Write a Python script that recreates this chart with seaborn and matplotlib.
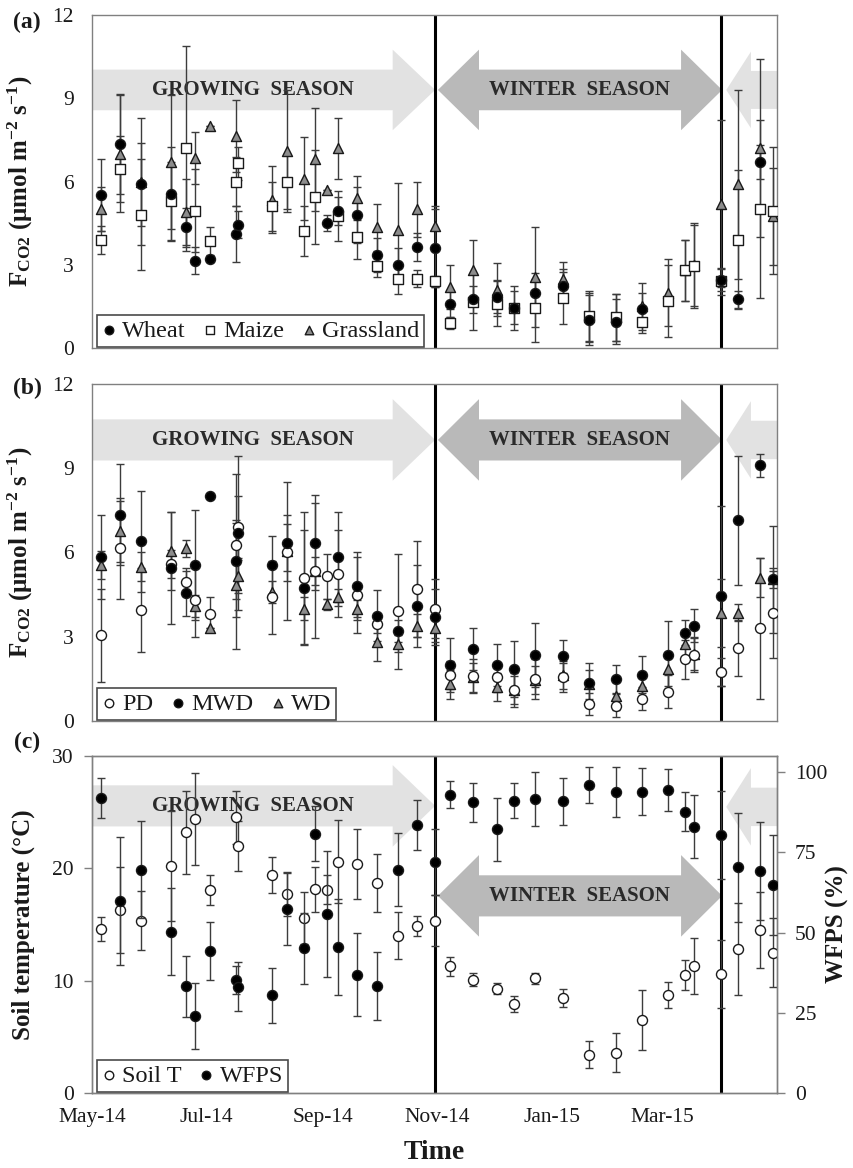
import numpy as np
import pandas as pd
import matplotlib
matplotlib.use("Agg")
import matplotlib.pyplot as plt
from matplotlib.patches import Polygon
import seaborn as sns

nan = np.nan

# ---------------- data ----------------
dates = ['2014-05-06', '2014-05-16', '2014-05-27', '2014-06-12', '2014-06-20', '2014-06-25',
         '2014-07-03', '2014-07-17', '2014-07-18', '2014-08-05', '2014-08-13', '2014-08-22',
         '2014-08-28', '2014-09-03', '2014-09-09', '2014-09-19', '2014-09-30', '2014-10-11',
         '2014-10-21', '2014-10-31', '2014-11-08', '2014-11-20', '2014-12-03', '2014-12-12',
         '2014-12-23', '2015-01-07', '2015-01-21', '2015-02-04', '2015-02-18', '2015-03-04',
         '2015-03-13', '2015-03-18', '2015-04-01', '2015-04-10', '2015-04-22', '2015-04-29']

# panel (a): land use
wheat = [5.5, 7.35, 5.9, 5.55, 4.35, 3.15, 3.2, 4.1, 4.45, nan,
         nan, nan, nan, 4.5, 4.95, 4.8, 3.35, 3.0, 3.65, 3.6,
         1.6, 1.75, 1.85, 1.45, 2.0, 2.25, 1.0, 0.95, 1.4, nan,
         nan, nan, 2.45, 1.75, 6.7, nan]
wheat_sd = [1.3, 1.8, 1.5, 1.7, 0.7, 0.5, 0.1, 1.0, 0.5, nan,
            nan, nan, nan, 0.3, 0.5, 1.0, 0.6, 0.6, 0.5, 1.4,
            0.5, 0.5, 0.6, 0.8, 0.5, 0.6, 0.9, 0.8, 0.6, nan,
            nan, nan, 0.4, 0.3, 0.6, nan]
maize = [3.9, 6.45, 4.8, 5.3, 7.2, 4.95, 3.85, 6.0, 6.65, 5.1,
         6.0, 4.2, 5.45, nan, 4.75, 4.0, 2.95, 2.5, 2.5, 2.4,
         0.9, 1.65, 1.6, 1.45, 1.45, 1.8, 1.15, 1.1, 0.95, 1.7,
         2.8, 2.95, 2.4, 3.9, 5.0, 4.95]
maize_sd = [0.5, 1.2, 2.0, 1.4, 3.7, 1.5, 0.5, 0.9, 0.6, 0.9,
            1.0, 0.9, 1.7, nan, 0.9, 0.8, 0.4, 0.55, 0.3, 0.2,
            0.2, 1.0, 0.8, 0.6, 1.25, 0.95, 0.9, 0.85, 0.4, 1.3,
            1.1, 1.5, 0.5, 2.5, 3.2, 2.3]
grass = [5.0, 7.0, 6.0, 6.7, 4.9, 6.85, 8.0, 7.65, nan, 5.35,
         7.1, 6.1, 6.8, 5.7, 7.2, 5.4, 4.35, 4.25, 5.0, 4.4,
         2.2, 2.8, 2.1, nan, 2.55, 2.5, 1.1, 1.1, 1.5, 2.0,
         2.8, 3.0, 5.2, 5.9, 7.2, 4.75]
grass_sd = [0.8, 2.1, 2.3, 2.4, 1.2, 0.95, 0.0, 1.3, nan, 1.2,
            2.2, 1.5, 1.85, 0.0, 1.1, 0.8, 0.85, 1.7, 1.0, 0.7,
            0.8, 1.1, 0.95, nan, 1.8, 0.6, 0.9, 0.85, 0.85, 1.2,
            1.1, 1.5, 3.0, 3.4, 3.2, 1.75]

# panel (b): drainage
pd_v = [3.05, 6.15, 3.95, 5.6, 4.95, 4.3, 3.8, 6.25, 6.9, 4.4,
        6.0, 5.1, 5.35, 5.15, 5.25, 4.5, 3.45, 3.9, 4.7, 4.0,
        1.65, 1.6, 1.55, 1.1, 1.5, 1.55, 0.6, 0.55, 0.8, 1.05,
        2.2, 2.35, 1.75, 2.6, 3.3, 3.85]
pd_sd = [1.65, 1.8, 1.5, 0.5, 0.5, 1.3, 0.6, 2.55, 1.1, 1.3,
         1.0, 2.35, 2.4, 0.8, 1.55, 1.35, 0.3, 2.05, 1.7, 1.05,
         0.5, 0.6, 0.5, 0.6, 0.7, 0.5, 0.4, 0.4, 0.4, 0.6,
         0.7, 0.6, 0.5, 1.0, 2.5, 1.6]
mwd = [5.85, 7.35, 6.4, 5.45, 4.55, 5.55, 8.0, 5.7, 6.7, 5.55,
       6.35, 4.75, 6.35, nan, 5.85, 4.8, 3.75, 3.2, 4.1, 3.7,
       2.0, 2.55, 2.0, 1.85, 2.35, 2.3, 1.35, 1.5, 1.65, 2.35,
       3.15, 3.4, 4.45, 7.15, 9.1, 5.05]
mwd_sd = [1.5, 1.8, 1.8, 2.0, 0.8, 1.95, 0.0, 1.35, 2.75, 1.05,
          1.0, 2.05, 1.7, nan, 1.6, 1.2, 0.9, 0.4, 1.45, 1.0,
          0.95, 0.75, 0.75, 1.0, 1.15, 0.6, 0.7, 0.5, 0.65, 1.2,
          0.45, 0.6, 3.2, 2.3, 0.4, 0.3]
wd = [5.55, 6.75, 5.5, 6.05, 6.15, 4.1, 3.3, 4.85, 5.15, 4.6,
      6.05, 4.0, 5.35, 4.15, 4.4, 4.0, 2.8, 2.75, 3.4, 3.3,
      1.3, 1.55, 1.2, 1.1, 1.45, 1.65, 1.3, 0.9, 1.25, 1.85,
      2.75, 2.4, 3.85, 3.85, 5.1, 5.05]
wd_sd = [0.5, 1.1, 0.5, 1.4, 0.3, 0.4, 0.0, 2.3, 0.6, 0.4,
         2.45, 0.4, 0.5, 0.2, 0.3, 0.3, 0.65, 0.3, 0.4, 0.5,
         0.5, 0.5, 0.5, 0.5, 0.5, 0.5, 0.5, 0.5, 0.5, 0.6,
         0.5, 0.6, 1.2, 0.3, 0.7, 1.9]

# panel (c): soil temperature and WFPS
soil_t = [14.6, 16.3, 15.35, 20.2, 23.2, 24.4, 18.1, 24.55, 22.0, 19.4,
          17.7, 15.55, 18.15, 18.1, 20.6, 20.4, 18.7, 14.0, 14.9, 15.35,
          11.3, 10.1, 9.3, 7.9, 10.2, 8.5, 3.4, 3.6, 6.5, 8.7,
          10.5, 11.3, 10.6, 12.8, 14.5, 12.5]
soil_t_sd = [1.1, 3.8, 2.6, 4.9, 3.7, 4.1, 1.35, 2.35, 2.2, 1.6,
             1.95, 2.3, 2.0, 1.3, 3.7, 3.1, 2.6, 2.1, 0.9, 2.3,
             0.85, 0.6, 0.5, 0.7, 0.5, 0.8, 1.2, 1.7, 2.65, 1.15,
             1.3, 2.5, 3.0, 4.1, 3.35, 3.1]
wfps = [91.9, 59.9, 69.6, 50.3, 33.3, 24.0, 44.3, 35.1, 33.1, 30.4,
        57.2, 45.1, 80.8, 55.8, 45.5, 36.9, 33.3, 69.6, 83.4, 72.0,
        93.0, 90.6, 82.1, 91.1, 91.6, 90.9, 96.0, 93.9, 93.9, 94.5,
        87.7, 83.0, 80.5, 70.3, 69.2, 64.8]
wfps_sd = [6.2, 20.0, 15.0, 13.5, 9.5, 10.3, 9.1, 4.4, 7.6, 8.6,
           11.2, 11.0, 8.5, 19.6, 15.0, 13.0, 10.5, 11.4, 7.8, 10.3,
           4.3, 6.1, 9.8, 5.5, 8.4, 7.3, 5.6, 7.8, 7.4, 6.6,
           6.0, 9.8, 13.7, 17.0, 15.2, 15.5]

season_breaks = ['2014-10-31', '2015-04-01']
tick_dates = ['2014-05-01', '2014-07-01', '2014-09-01', '2014-11-01',
              '2015-01-01', '2015-03-01', '2015-05-01']
tick_labels = ['May-14', 'Jul-14', 'Sep-14', 'Nov-14', 'Jan-15', 'Mar-15', '']

# ---------------- style ----------------
sns.set_theme(style="white")
plt.rcParams['font.family'] = ['Liberation Serif', 'DejaVu Serif']
plt.rcParams['mathtext.default'] = 'regular'
plt.rcParams['axes.edgecolor'] = '#808080'
plt.rcParams['axes.linewidth'] = 1.0

GRID = '#808080'
TXT = '#1a1a1a'
x = pd.to_datetime(pd.Series(dates))

fig = plt.figure(figsize=(8.54, 11.68), dpi=100)
L, W = 0.1077, 0.8021
axa = fig.add_axes([L, 0.70205, W, 0.28510])
axb = fig.add_axes([L, 0.38271, W, 0.28853])
axc = fig.add_axes([L, 0.06421, W, 0.28853])
axc2 = axc.twinx()


def series(ax, y, sd, marker, face, label, size=48):
    y = np.asarray(y, float)
    sd = np.asarray(sd, float)
    ax.errorbar(x, y, yerr=sd, fmt='none', ecolor='#3c3c3c', elinewidth=1.0,
                capsize=2.6, capthick=1.0, zorder=3)
    sns.scatterplot(x=x, y=y, ax=ax, marker=marker, color=face, edgecolor='#1a1a1a',
                    linewidth=1.0, s=size, label=label, zorder=4)


def right_arrow(ax, x0, x1, yc, bh, hh, hl, color):
    pts = [(x0, yc - bh), (x1 - hl, yc - bh), (x1 - hl, yc - hh), (x1, yc),
           (x1 - hl, yc + hh), (x1 - hl, yc + bh), (x0, yc + bh)]
    ax.add_patch(Polygon(pts, closed=True, transform=ax.transAxes, facecolor=color,
                         edgecolor='none', zorder=0.5))


def left_arrow(ax, x0, x1, yc, bh, hh, hl, color):
    pts = [(x0, yc), (x0 + hl, yc + hh), (x0 + hl, yc + bh), (x1, yc + bh),
           (x1, yc - bh), (x0 + hl, yc - bh), (x0 + hl, yc - hh)]
    ax.add_patch(Polygon(pts, closed=True, transform=ax.transAxes, facecolor=color,
                         edgecolor='none', zorder=0.5))


def double_arrow(ax, x0, x1, yc, bh, hh, hl, color):
    pts = [(x0, yc), (x0 + hl, yc + hh), (x0 + hl, yc + bh), (x1 - hl, yc + bh),
           (x1 - hl, yc + hh), (x1, yc), (x1 - hl, yc - hh), (x1 - hl, yc - bh),
           (x0 + hl, yc - bh), (x0 + hl, yc - hh)]
    ax.add_patch(Polygon(pts, closed=True, transform=ax.transAxes, facecolor=color,
                         edgecolor='none', zorder=0.5))


def seasons(ax, y_grow, y_wint, y_third):
    light, dark = '#e2e2e2', '#b9b9b9'
    right_arrow(ax, 0.0, 0.501, y_grow, 0.061, 0.121, 0.062, light)
    double_arrow(ax, 0.505, 0.920, y_wint, 0.061, 0.121, 0.060, dark)
    left_arrow(ax, 0.926, 1.0, y_third, 0.057, 0.115, 0.036, light)
    kw = dict(transform=ax.transAxes, ha='center', va='center', fontsize=15,
              fontweight='bold', color='#2a2a2a', zorder=1)
    ax.text(0.235, y_grow, 'GROWING  SEASON', **kw)
    ax.text(0.712, y_wint, 'WINTER  SEASON', **kw)


def frame(ax, ymax, yticks, show_x):
    ax.set_xlim(pd.Timestamp('2014-05-01'), pd.Timestamp('2015-05-01'))
    ax.set_ylim(0, ymax)
    ax.set_yticks(yticks)
    ax.set_xticks(pd.to_datetime(tick_dates))
    ax.set_xticklabels(tick_labels if show_x else [''] * len(tick_labels))
    ax.tick_params(axis='both', direction='out', length=6, width=1, color=GRID,
                   labelsize=15.5, labelcolor=TXT)
    ax.tick_params(axis='y', pad=7)
    ax.tick_params(axis='x', pad=5)
    for s in ax.spines.values():
        s.set_color(GRID)
        s.set_linewidth(1.0)
    for d in season_breaks:
        ax.axvline(pd.Timestamp(d), color='black', lw=2.2, zorder=2)
    ax.set_xlabel('')


def legend(ax, handles, labels, anchor):
    lg = ax.legend(handles, labels, loc='lower left', bbox_to_anchor=anchor,
                   ncol=len(labels), frameon=True, fancybox=False, framealpha=1,
                   edgecolor='#4a4a4a', fontsize=17.5, handlelength=0.6,
                   handletextpad=0.25, columnspacing=0.7, borderpad=0.2,
                   borderaxespad=0, markerscale=0.85)
    lg.get_frame().set_linewidth(1.2)
    for t in lg.get_texts():
        t.set_color(TXT)
    lg.set_zorder(10)


ylab_kw = dict(fontsize=18, fontweight='bold', color=TXT)

# ---------- (a) ----------
seasons(axa, 0.775, 0.775, 0.775)
series(axa, grass, grass_sd, '^', '#8c8c8c', 'Grassland', 52)
series(axa, maize, maize_sd, 's', 'white', 'Maize', 46)
series(axa, wheat, wheat_sd, 'o', 'black', 'Wheat', 52)
frame(axa, 12, [0, 3, 6, 9, 12], False)
axa.set_ylabel('F$_{CO2}$ (μmol m$^{-2}$ s$^{-1}$)', **ylab_kw)
axa.yaxis.set_label_coords(-0.083, 0.5)
h, l = axa.get_legend_handles_labels()
order = [l.index('Wheat'), l.index('Maize'), l.index('Grassland')]
legend(axa, [h[i] for i in order], [l[i] for i in order], (0.007, 0.004))

# ---------- (b) ----------
seasons(axb, 0.834, 0.834, 0.834)
series(axb, wd, wd_sd, '^', '#8c8c8c', 'WD', 52)
series(axb, pd_v, pd_sd, 'o', 'white', 'PD', 52)
series(axb, mwd, mwd_sd, 'o', 'black', 'MWD', 52)
frame(axb, 12, [0, 3, 6, 9, 12], False)
axb.set_ylabel('F$_{CO2}$ (μmol m$^{-2}$ s$^{-1}$)', **ylab_kw)
axb.yaxis.set_label_coords(-0.083, 0.5)
h, l = axb.get_legend_handles_labels()
order = [l.index('PD'), l.index('MWD'), l.index('WD')]
legend(axb, [h[i] for i in order], [l[i] for i in order], (0.007, 0.004))

# ---------- (c) ----------
seasons(axc, 0.852, 0.585, 0.849)
series(axc, soil_t, soil_t_sd, 'o', 'white', 'Soil T', 52)
series(axc2, wfps, wfps_sd, 'o', 'black', 'WFPS', 52)
frame(axc, 30, [0, 10, 20, 30], True)
axc2.set_ylim(0, 105)
axc2.set_yticks([0, 25, 50, 75, 100])
axc2.tick_params(axis='y', direction='out', length=6, width=1, color=GRID,
                 labelsize=15.5, labelcolor=TXT, pad=7)
for s in axc2.spines.values():
    s.set_color(GRID)
axc.set_ylabel('Soil temperature (°C)', **ylab_kw)
axc.yaxis.set_label_coords(-0.083, 0.5)
axc2.set_ylabel('WFPS (%)', **ylab_kw)
axc2.yaxis.set_label_coords(1.072, 0.5)
axc.set_xlabel('Time', fontsize=20, fontweight='bold', color=TXT)
axc.xaxis.set_label_coords(0.5, -0.14)
h1, l1 = axc.get_legend_handles_labels()
h2, l2 = axc2.get_legend_handles_labels()
if axc.get_legend() is not None:
    axc.get_legend().remove()
legend(axc2, h1 + h2, l1 + l2, (0.007, 0.004))

for lab, yy in [('(a)', 22), ('(b)', 388), ('(c)', 742)]:
    fig.text(27 / 854, 1 - yy / 1168, lab, ha='center', va='center', fontsize=17,
             fontweight='bold', color=TXT)

fig.savefig('out.png', dpi=100)
